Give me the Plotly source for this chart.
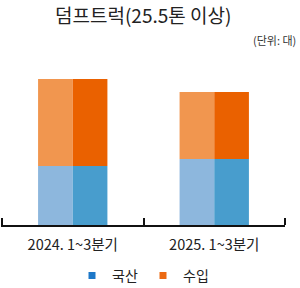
import plotly.graph_objects as go

categories = ["2024. 1~3분기", "2025. 1~3분기"]
domestic = [590, 660]   # 국산
imported = [870, 670]   # 수입
series_names = ["국산", "수입"]

light = {"국산": "#8DB7DD", "수입": "#F1964F"}
dark = {"국산": "#489DCD", "수입": "#EA6100"}
legend_col = {"국산": "#1E78C8", "수입": "#EC6A12"}

font = "Noto Sans CJK KR"
xpos = list(range(len(categories)))
bounds = [i - 0.5 for i in range(len(categories) + 1)]

fig = go.Figure()
bw = 0.245
for name, vals, base in [("국산", domestic, [0] * len(domestic)), ("수입", imported, domestic)]:
    fig.add_bar(x=xpos, y=vals, base=base, width=bw, offset=-bw,
                marker=dict(color=light[name], line=dict(width=0)), showlegend=False, hoverinfo="skip")
    fig.add_bar(x=xpos, y=vals, base=base, width=bw, offset=0,
                marker=dict(color=dark[name], line=dict(width=0)), showlegend=False, hoverinfo="skip")
for name in series_names:
    fig.add_scatter(x=[None], y=[None], mode="markers", name=name,
                    marker=dict(symbol="square", size=7, color=legend_col[name]))

fig.update_layout(
    width=300, height=288,
    margin=dict(l=1, r=15, t=50, b=63),
    barmode="overlay",
    plot_bgcolor="white", paper_bgcolor="white",
    font=dict(family=font, color="#222"),
    showlegend=True,
    legend=dict(orientation="h", x=0.5, xanchor="center", yref="container", y=0.042, yanchor="middle",
                font=dict(size=14, color="#222"), itemwidth=30, entrywidth=26, tracegroupgap=0),
    annotations=[
        dict(text="덤프트럭(25.5톤 이상)", xref="paper", yref="paper", x=0.5, y=1, yshift=36,
             xanchor="center", yanchor="middle", showarrow=False, font=dict(size=19, color="#222")),
        dict(text="(단위: 대)", xref="paper", yref="paper", x=1, xshift=13, y=1, yshift=10,
             xanchor="right", yanchor="middle", showarrow=False, font=dict(size=11, color="#333")),
    ],
)
fig.update_xaxes(range=[-0.507, 1.5], showline=True, linecolor="#111", linewidth=2,
                 tickvals=xpos, ticktext=categories, ticks="",
                 minor=dict(tickvals=bounds, ticks="inside", ticklen=7, tickwidth=2, tickcolor="#111"),
                 tickfont=dict(size=14.5, color="#222"), ticklabelstandoff=6,
                 showgrid=False, zeroline=False)
fig.update_yaxes(range=[0, 1750], visible=False, showgrid=False)

fig.write_html("out.html")
